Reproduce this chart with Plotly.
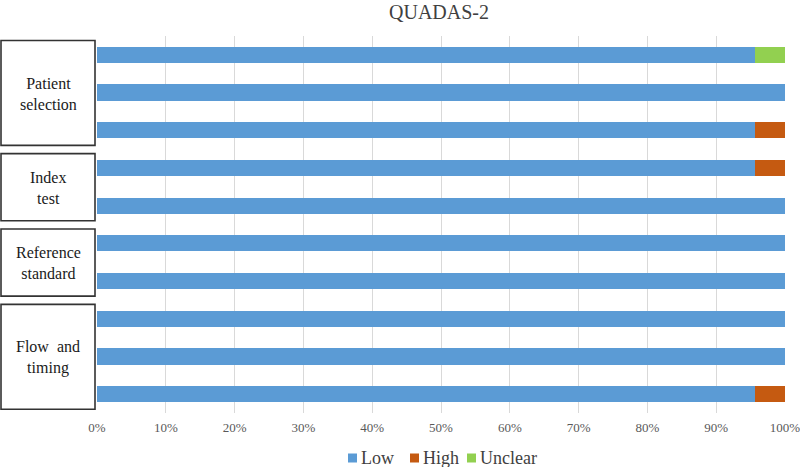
import plotly.graph_objects as go

items = ["PS risk", "PS applicability", "PS concern", "IT risk", "IT applicability",
         "RS risk", "RS applicability", "FT 1", "FT 2", "FT 3"]
low = [95.7, 100, 95.7, 95.7, 100, 100, 100, 100, 100, 95.7]
high = [0, 0, 4.3, 4.3, 0, 0, 0, 0, 0, 4.3]
unclear = [4.3, 0, 0, 0, 0, 0, 0, 0, 0, 0]
series_names = ["Low", "High", "Unclear"]
series_colors = ["#5B9BD5", "#C55A11", "#92D050"]
groups = ["Patient<br>selection", "Index<br>test", "Reference<br>standard", "Flow  and<br>timing"]
group_sizes = [3, 2, 2, 3]
tick_vals = [0, 10, 20, 30, 40, 50, 60, 70, 80, 90, 100]
tick_text = [f"{v}%" for v in tick_vals]

font_family = "Liberation Serif, Times New Roman, serif"

W, H = 800, 467
ML, MR, MT, MB = 97, 15, 36, 54
PW, PH = W - ML - MR, H - MT - MB


def px_x(px):
    return (px - ML) / PW


def px_y(py):
    return (H - MB - py) / PH


fig = go.Figure()
for name, vals, col in zip(series_names, [low, high, unclear], series_colors):
    fig.add_trace(go.Bar(y=items, x=vals, name=name, orientation="h",
                         marker=dict(color=col, line=dict(width=0))))

shapes, annots = [], []
start = 0
for g, n in zip(groups, group_sizes):
    end = start + n - 1
    y0, y1 = start - 0.38, end + 0.4
    shapes.append(dict(type="rect", xref="paper", yref="y", x0=px_x(1), x1=px_x(95),
                       y0=y0, y1=y1, line=dict(color="#333333", width=1.6),
                       fillcolor="white"))
    annots.append(dict(xref="paper", yref="y", x=px_x(48), y=(start + end) / 2 + 0.03,
                       xanchor="center", yanchor="middle",
                       text=g, showarrow=False, align="center",
                       font=dict(family=font_family, size=16, color="#1a1a1a")))
    start += n

# manual legend (compact spacing as in the reference)
leg_sq_x = [348, 410, 467]
for name, col, sx in zip(series_names, series_colors, leg_sq_x):
    shapes.append(dict(type="rect", xref="paper", yref="paper",
                       x0=px_x(sx), x1=px_x(sx + 9), y0=px_y(462.5), y1=px_y(453.5),
                       line=dict(width=0), fillcolor=col))
    annots.append(dict(xref="paper", yref="paper", x=px_x(sx + 11), y=px_y(458),
                       xanchor="left", yanchor="middle", text=name, showarrow=False,
                       font=dict(family=font_family, size=18, color="#404040")))

fig.update_layout(
    barmode="stack",
    bargap=0.57,
    width=W, height=H,
    margin=dict(l=ML, r=MR, t=MT, b=MB, autoexpand=False),
    paper_bgcolor="white", plot_bgcolor="white",
    title=dict(text="QUADAS-2", x=439 / W, xanchor="center", y=1 - 12 / H, yanchor="middle",
               font=dict(family=font_family, size=20, color="#404040")),
    xaxis=dict(range=[0, 100], tickvals=tick_vals, ticktext=tick_text,
               showgrid=True, gridcolor="#d9d9d9", gridwidth=1, zeroline=False,
               showline=False, ticks="", automargin=False, ticklabeloverflow="allow",
               ticklabelstandoff=5,
               tickfont=dict(family=font_family, size=13, color="#595959")),
    yaxis=dict(categoryorder="array", categoryarray=items, autorange="reversed",
               showticklabels=False, showgrid=False, zeroline=False, ticks="",
               automargin=False),
    shapes=shapes,
    annotations=annots,
    showlegend=False,
)

fig.write_html("out.html", post_script="document.body.style.margin='0';",
               config={"displayModeBar": False})
